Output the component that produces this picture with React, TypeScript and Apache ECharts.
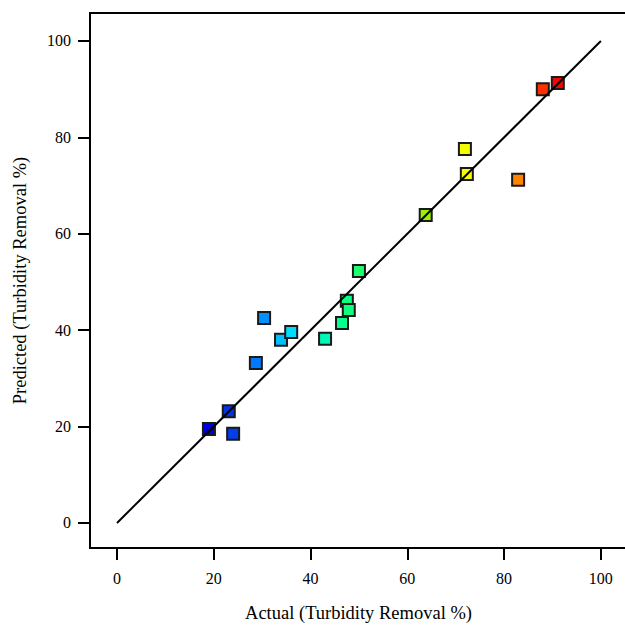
import React, { useEffect, useRef } from "react";
import * as echarts from "echarts";

const actual = [19.0, 23.1, 24.0, 28.7, 30.4, 33.9, 36.0, 43.0, 46.5, 47.5, 47.9, 50.0, 63.8, 71.9, 72.3, 82.9, 88.0, 91.1];
const predicted = [19.5, 23.2, 18.5, 33.2, 42.5, 38.0, 39.6, 38.2, 41.5, 46.1, 44.2, 52.3, 63.9, 77.6, 72.4, 71.2, 90.0, 91.3];
const tickValues = [0, 20, 40, 60, 80, 100];
const diagonal = [[0, 0], [100, 100]];
const colorStops = ["#0000d8", "#0070ff", "#00e8ff", "#00ff90", "#40ff40", "#a0f000", "#ffff00", "#ff9000", "#ff0000"];

export default function App() {
  const ref = useRef<HTMLDivElement>(null);
  useEffect(() => {
    if (!ref.current) return;
    const chart = echarts.init(ref.current, undefined, { renderer: "svg" });
    const font = "'Liberation Serif', 'Times New Roman', serif";
    const axisCommon = {
      type: "value",
      axisLine: { show: true, onZero: false, lineStyle: { color: "#000", width: 2 } },
      axisTick: { show: true, length: 12, customValues: tickValues, lineStyle: { color: "#000", width: 2 } },
      axisLabel: { customValues: tickValues, color: "#000", fontSize: 16, fontFamily: font },
      splitLine: { show: false },
      nameLocation: "middle",
      nameTextStyle: { color: "#000", fontSize: 18.5, fontFamily: font },
    };
    chart.setOption({
      animation: false,
      backgroundColor: "#fff",
      grid: {
        left: 90, top: 13, width: 537, height: 535,
        show: true, borderColor: "#000", borderWidth: 2,
        containLabel: false, outerBoundsMode: "none",
      },
      xAxis: { ...axisCommon, min: -5.58, max: 105.4, name: "Actual (Turbidity Removal %)", nameGap: 55, axisLabel: { ...axisCommon.axisLabel, margin: 22 } },
      yAxis: { ...axisCommon, min: -5.19, max: 105.8, name: "Predicted (Turbidity Removal %)", nameGap: 61, axisLabel: { ...axisCommon.axisLabel, margin: 19 } },
      visualMap: {
        show: false,
        type: "continuous",
        seriesIndex: 1,
        dimension: 0,
        min: 19,
        max: 91,
        inRange: { color: colorStops },
      },
      series: [
        {
          type: "line",
          data: diagonal,
          symbol: "none",
          lineStyle: { color: "#000", width: 2 },
          silent: true,
        },
        {
          type: "scatter",
          data: actual.map((a, i) => [a, predicted[i]]),
          symbol: "rect",
          symbolSize: 12,
          itemStyle: { borderColor: "#1a1a1a", borderWidth: 2, opacity: 1 },
        },
      ],
    });
    return () => chart.dispose();
  }, []);
  return <div ref={ref} style={{ width: 625, height: 625, position: "absolute", left: 0, top: 0 }} />;
}
